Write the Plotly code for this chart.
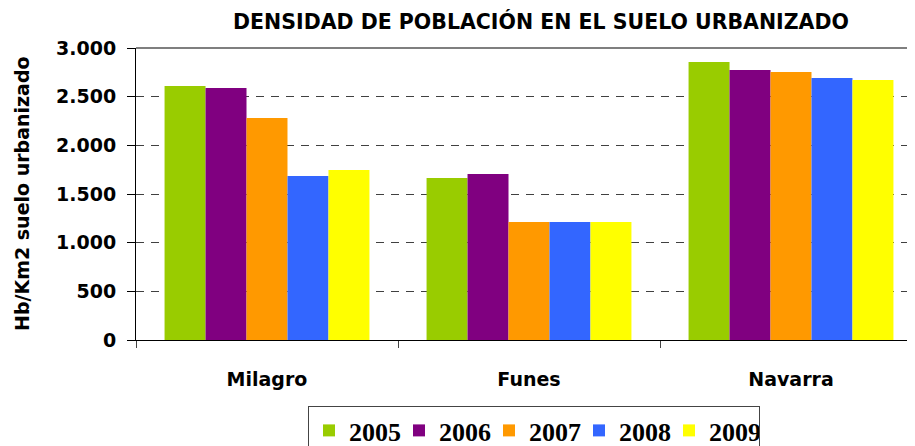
import plotly.graph_objects as go

categories = ["Milagro", "Funes", "Navarra"]
years = ["2005", "2006", "2007", "2008", "2009"]
values = {
    "2005": [2610, 1664, 2856],
    "2006": [2589, 1705, 2774],
    "2007": [2281, 1212, 2753],
    "2008": [1685, 1212, 2692],
    "2009": [1747, 1212, 2671],
}
colors = ["#99CC00", "#800080", "#FF9900", "#3366FF", "#FFFF00"]
y_ticks = [0, 500, 1000, 1500, 2000, 2500, 3000]

OFF = 8  # default page body margin
W, H = 915 - OFF, 446 - OFF
L, T = 136 - OFF, 48 - OFF
B = H - (340 - OFF)
R = 0
pw = W - L - R
ph = H - T - B
cat_px = 262.0
span = pw / cat_px

font_main = "DejaVu Sans"


def px_x(x):
    return (x - OFF) / W


def px_y(y):
    return 1 - (y - OFF) / H


fig = go.Figure()
for yr, col in zip(years, colors):
    fig.add_trace(go.Bar(x=categories, y=values[yr], name="<b>" + yr + "</b>",
                         marker=dict(color=col, line=dict(width=0))))

fig.update_layout(
    width=W, height=H,
    margin=dict(l=L, r=R, t=T, b=B, pad=0, autoexpand=False),
    paper_bgcolor="white", plot_bgcolor="white",
    barmode="group", bargap=0.218, bargroupgap=0,
    separators=",.",
    showlegend=True,
    title=dict(
        text="<b>DENSIDAD DE POBLACIÓN EN EL SUELO URBANIZADO</b>",
        font=dict(family=font_main, size=20.5, color="black"),
        x=px_x(541), xref="container", xanchor="center",
        y=px_y(22), yref="container", yanchor="middle",
        automargin=False,
    ),
    legend=dict(
        orientation="h",
        x=px_x(308), xref="container", xanchor="left",
        y=px_y(406), yref="container", yanchor="top",
        bordercolor="#444444", borderwidth=1,
        font=dict(family="Liberation Serif", size=26, color="black"),
        itemwidth=30,
        entrywidth=45,
        tracegroupgap=0,
    ),
    font=dict(family=font_main, color="black"),
)

fig.update_xaxes(
    range=[-0.5, -0.5 + span],
    showgrid=False,
    showline=True, linecolor="black", linewidth=1,
    ticks="outside", tickson="boundaries", ticklen=7, tickcolor="#444444",
    tickvals=categories, ticktext=["<b>" + c + "</b>" for c in categories],
    tickfont=dict(family=font_main, size=19, color="black"),
    ticklabelstandoff=22,
    automargin=False,
    fixedrange=True,
)
fig.update_yaxes(
    range=[0, 3000],
    tickvals=y_ticks,
    ticktext=["<b>" + f"{v:,}".replace(",", ".") + "</b>" for v in y_ticks],
    showgrid=True, gridcolor="#404040", gridwidth=1, griddash="8px,7px",
    zeroline=False,
    showline=True, linecolor="black", linewidth=1,
    ticks="outside", ticklen=8, tickcolor="black",
    tickfont=dict(family=font_main, size=19, color="black"),
    ticklabelstandoff=7,
    automargin=False,
    fixedrange=True,
)

# top border of plot area
fig.add_shape(type="line", xref="paper", yref="paper", x0=0, x1=1, y0=1, y1=1,
              line=dict(color="#555555", width=1.5))

fig.add_annotation(
    text="<b>Hb/Km2 suelo urbanizado</b>",
    xref="paper", yref="paper",
    x=(22 - 136) / pw, y=(340 - 194) / ph,
    xanchor="center", yanchor="middle",
    textangle=-90, showarrow=False,
    font=dict(family=font_main, size=19, color="black"),
)

fig.write_html("out.html", config={"displayModeBar": False})
